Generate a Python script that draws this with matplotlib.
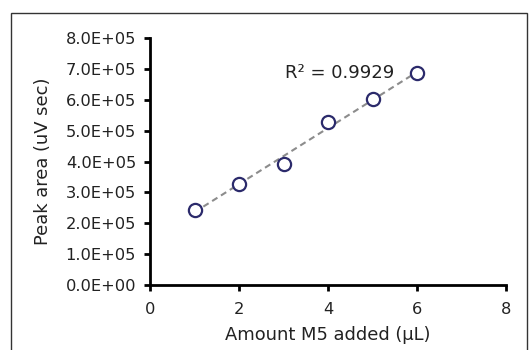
import matplotlib.pyplot as plt
import numpy as np
from matplotlib.patches import Rectangle
from matplotlib.ticker import FuncFormatter

amount = [1, 2, 3, 4, 5, 6]
peak_area = [2.43e5, 3.26e5, 3.92e5, 5.29e5, 6.03e5, 6.86e5]
r2_text = "R² = 0.9929"

fig = plt.figure(figsize=(5.3, 3.5), dpi=100)
ax = fig.add_axes([0.283, 0.186, 0.672, 0.705])

# outer frame (bottom edge cut off like in the reference)
fig.patches.append(Rectangle((11/530, -0.1), 516/530, 1.1 - 13/350,
                             transform=fig.transFigure, fill=False,
                             edgecolor="#333333", linewidth=1))

# trend line
coef = np.polyfit(amount, peak_area, 1)
xs = np.array([amount[0], amount[-1]])
ax.plot(xs, np.polyval(coef, xs), linestyle=(0, (3, 2)), color="#8c8c8c", linewidth=1.5, zorder=2)

ax.plot(amount, peak_area, "o", markersize=9.5, markerfacecolor="white",
        markeredgecolor="#2b2a6b", markeredgewidth=1.6, zorder=3)

ax.text(3.03, 6.87e5, r2_text, fontsize=13, color="#222222", va="center", ha="left")

ax.set_xlim(0, 8)
ax.set_ylim(0, 8e5)
ax.set_xticks([0, 2, 4, 6, 8])
ax.set_yticks(np.arange(0, 8.01e5, 1e5))
ax.yaxis.set_major_formatter(FuncFormatter(lambda v, p: f"{v:.1E}"))

for s in ["top", "right"]:
    ax.spines[s].set_visible(False)
for s in ["left", "bottom"]:
    ax.spines[s].set_linewidth(2)
ax.tick_params(direction="out", length=4, width=2, labelsize=11.7, colors="black",
               labelcolor="#222222")
ax.tick_params(axis="y", pad=6)
ax.tick_params(axis="x", pad=8)

ax.set_xlabel("Amount M5 added (µL)", fontsize=12.9, color="#222222", labelpad=7)
ax.set_ylabel("Peak area (uV sec)", fontsize=12.9, color="#222222", labelpad=10)

fig.savefig("out.png", dpi=100)
